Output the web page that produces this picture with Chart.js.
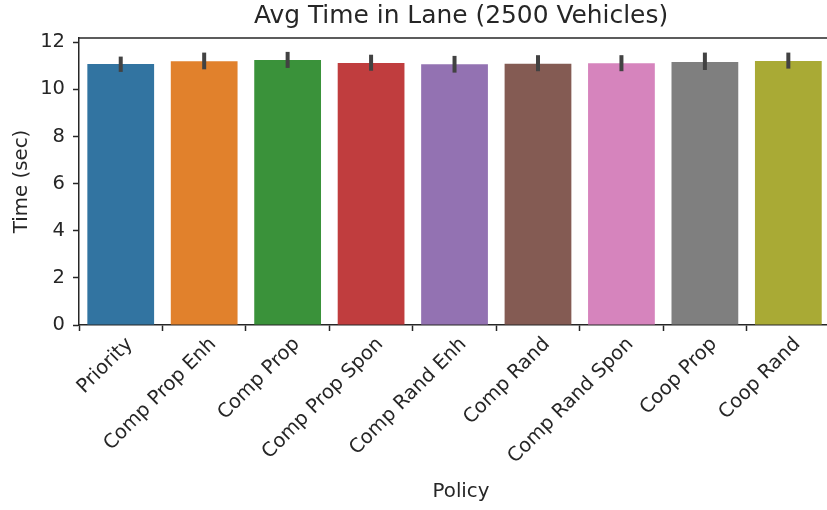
<!DOCTYPE html>
<html>
<head>
<meta charset="utf-8">
<script src="https://cdn.jsdelivr.net/npm/chart.js@4/dist/chart.umd.min.js"></script>
<style>
  html, body { margin: 0; padding: 0; background: #fff; overflow: hidden; }
  #wrap { width: 850px; height: 510px; }
</style>
</head>
<body>
<div id="wrap"><canvas id="c" width="850" height="510"></canvas></div>
<script>
// Policies compared
const policies = ['Priority', 'Comp Prop Enh', 'Comp Prop', 'Comp Prop Spon', 'Comp Rand Enh',
                  'Comp Rand', 'Comp Rand Spon', 'Coop Prop', 'Coop Rand'];
// Mean time in lane (sec)
const meanTime = [11.08, 11.19, 11.25, 11.12, 11.06, 11.09, 11.11, 11.16, 11.20];
// 95% confidence interval bounds
const ciLow  = [10.74, 10.85, 10.91, 10.79, 10.71, 10.77, 10.77, 10.82, 10.88];
const ciHigh = [11.39, 11.56, 11.59, 11.47, 11.42, 11.45, 11.45, 11.56, 11.56];
// Y axis ticks
const yTicks = [0, 2, 4, 6, 8, 10, 12];
// Bar palette
const barColors = ['#3274a1', '#e1812c', '#3a923a', '#c03d3e', '#9372b2',
                   '#845b53', '#d684bd', '#7f7f7f', '#a9aa35'];

const ink = '#262626';
const FONT = 'DejaVu Sans';

// Confidence-interval whiskers drawn through the chart's scales
const ciBars = {
  id: 'ciBars',
  afterDatasetsDraw(chart) {
    const { ctx, scales: { x, y } } = chart;
    ctx.save();
    ctx.strokeStyle = '#424242';
    ctx.lineWidth = 4;
    ctx.lineCap = 'butt';
    policies.forEach((p, i) => {
      const px = x.getPixelForValue(i);
      ctx.beginPath();
      ctx.moveTo(px, y.getPixelForValue(ciLow[i]));
      ctx.lineTo(px, y.getPixelForValue(ciHigh[i]));
      ctx.stroke();
    });
    ctx.restore();
  }
};

// Top spine of the axes frame
const frameTop = {
  id: 'frameTop',
  afterDraw(chart) {
    const { ctx, chartArea: a } = chart;
    ctx.save();
    ctx.strokeStyle = ink;
    ctx.lineWidth = 1.5;
    ctx.beginPath();
    ctx.moveTo(a.left, a.top);
    ctx.lineTo(a.right, a.top);
    ctx.stroke();
    ctx.restore();
  }
};

new Chart(document.getElementById('c'), {
  type: 'bar',
  data: {
    datasets: [{
      data: meanTime.map((v, i) => ({ x: i, y: v })),
      backgroundColor: barColors,
      borderWidth: 0,
      barPercentage: 0.8,
      categoryPercentage: 1.0
    }]
  },
  options: {
    responsive: false,
    animation: false,
    layout: { padding: { left: 0, right: 7, top: 0, bottom: 0 } },
    plugins: {
      legend: { display: false },
      tooltip: { enabled: false },
      title: {
        display: true,
        text: 'Avg Time in Lane (2500 Vehicles)',
        color: ink,
        fullSize: false,
        font: { family: FONT, size: 24.9, weight: 'normal', lineHeight: 1.2 },
        padding: { top: 2, bottom: 6.1 }
      }
    },
    scales: {
      x: {
        type: 'linear',
        min: -0.5,
        max: 8.655,
        offset: false,
        afterBuildTicks: s => { s.ticks = policies.map((p, i) => ({ value: i })); },
        afterFit: s => { s.height = 185; },
        grid: { display: true, drawOnChartArea: false, drawTicks: true, tickLength: 6, tickColor: ink, tickWidth: 1.5 },
        border: { display: true, color: ink, width: 1.5 },
        ticks: {
          autoSkip: false,
          minRotation: 45,
          maxRotation: 45,
          padding: 2,
          labelOffset: 9,
          color: ink,
          font: { family: FONT, size: 19.5, lineHeight: 1.2 },
          callback: v => policies[v]
        },
        title: {
          display: true,
          text: 'Policy',
          color: ink,
          font: { family: FONT, size: 19.8, lineHeight: 1.2 },
          padding: { top: 0, bottom: 6.3 }
        }
      },
      y: {
        min: 0,
        max: 12.18,
        afterBuildTicks: s => { s.ticks = yTicks.map(v => ({ value: v })); },
        afterFit: s => { s.width = 79; },
        grid: { display: true, drawOnChartArea: false, drawTicks: true, tickLength: 6, tickColor: ink, tickWidth: 1.5 },
        border: { display: true, color: ink, width: 1.5 },
        ticks: {
          padding: 8,
          color: ink,
          font: { family: FONT, size: 19.5 }
        },
        title: {
          display: true,
          text: 'Time (sec)',
          color: ink,
          font: { family: FONT, size: 19.8, lineHeight: 1.2 },
          padding: { top: 9.8, bottom: 0 }
        }
      }
    }
  },
  plugins: [ciBars, frameTop]
});
</script>
</body>
</html>
